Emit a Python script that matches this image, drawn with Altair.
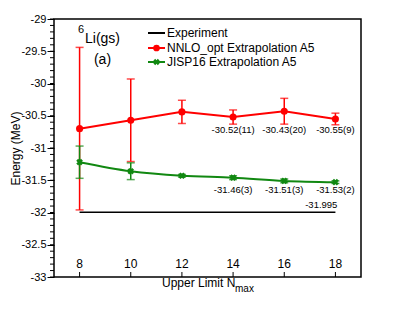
import altair as alt
import pandas as pd

# ---- data ----
nmax = [8, 10, 12, 14, 16, 18]
nnlo = [-30.70, -30.57, -30.44, -30.52, -30.43, -30.55]
nnlo_err = [1.26, 0.64, 0.18, 0.11, 0.20, 0.09]
jisp = [-31.22, -31.36, -31.43, -31.46, -31.51, -31.53]
jisp_err = [0.25, 0.13, 0.02, 0.03, 0.03, 0.02]
experiment = -31.995
nnlo_labels = ["", "", "", "-30.52(11)", "-30.43(20)", "-30.55(9)"]
jisp_labels = ["", "", "", "-31.46(3)", "-31.51(3)", "-31.53(2)"]
legend_names = ["Experiment", "NNLO_opt Extrapolation A5", "JISP16 Extrapolation A5"]
legend_colors = ["#000000", "#ff0000", "#118811"]
x_ticks = [8, 10, 12, 14, 16, 18]
y_major = [-33 + 0.5 * i for i in range(9)]
y_minor = [round(-33 + 0.1 * i, 1) for i in range(41)]

RED = "#ff0000"
GREEN = "#118811"
FONT = "Liberation Sans"
W, H = 307, 258

df = pd.DataFrame({
    "n": nmax, "nnlo": nnlo, "jisp": jisp,
    "nnlo_lo": [v - e for v, e in zip(nnlo, nnlo_err)],
    "nnlo_hi": [v + e for v, e in zip(nnlo, nnlo_err)],
    "jisp_lo": [v - e for v, e in zip(jisp, jisp_err)],
    "jisp_hi": [v + e for v, e in zip(jisp, jisp_err)],
    "nl": nnlo_labels, "jl": jisp_labels,
})
exp_df = pd.DataFrame({"n": [nmax[0], nmax[-1]], "e": [experiment, experiment]})
xt_df = pd.DataFrame({"n": x_ticks, "t": [str(v) for v in x_ticks]})
ymin_df = pd.DataFrame({"v": y_minor})

xs = alt.Scale(domain=[7, 19], nice=False, zero=False)
ys = alt.Scale(domain=[-33, -29], nice=False, zero=False)

YAX = alt.Axis(orient="left", values=y_major, tickSize=7, tickColor="black",
               labelExpr="datum.value + ''", labelFontSize=11, labelFont=FONT,
               labelColor="black", labelPadding=1, domain=False, grid=False,
               title="Energy (MeV)", titleFont=FONT, titleFontSize=12,
               titleFontWeight="normal", titleColor="black",
               titleX=-39, titleY=H / 2, titleAngle=270, titleBaseline="middle",
               titleAlign="center")

def Y(field):
    return alt.Y(field, scale=ys, axis=YAX)

base = alt.Chart(df)
X = alt.X("n:Q", scale=xs, axis=None)

red_err = base.mark_errorbar(ticks={"size": 8, "color": RED}, color=RED, thickness=1.5).encode(
    x=X, y=Y("nnlo_lo:Q"), y2="nnlo_hi:Q")

# minor y ticks
minor_ticks = alt.Chart(ymin_df).mark_rule(color="black", strokeWidth=1).encode(
    x=alt.value(-4), x2=alt.value(0), y=Y("v:Q"))

# x ticks (inward) and labels
x_tick_marks = alt.Chart(xt_df).mark_rule(color="black", strokeWidth=1).encode(
    x=X, y=alt.value(H), y2=alt.value(H - 5))
x_tick_labels = alt.Chart(xt_df).mark_text(fontSize=12, font=FONT, color="black",
                                           baseline="alphabetic").encode(
    x=X, y=alt.value(H - 9), text="t:N")

exp_line = alt.Chart(exp_df).mark_line(color="black", strokeWidth=1.5).encode(
    x=X, y=Y("e:Q"))

red_line = base.mark_line(color=RED, strokeWidth=2).encode(x=X, y=Y("nnlo:Q"))
red_pts = base.mark_point(color=RED, filled=True, opacity=1, size=50, shape="circle").encode(
    x=X, y=Y("nnlo:Q"))

green_err = base.mark_errorbar(ticks={"size": 8, "color": GREEN}, color=GREEN, thickness=1.5).encode(
    x=X, y=Y("jisp_lo:Q"), y2="jisp_hi:Q")
green_line = base.mark_line(color=GREEN, strokeWidth=2, interpolate="monotone").encode(
    x=X, y=Y("jisp:Q"))
green_pts = base.mark_point(color=GREEN, filled=True, opacity=1, size=45, shape="cross", angle=45).encode(
    x=X, y=Y("jisp:Q"))

red_lab = base.mark_text(fontSize=9.5, font=FONT, color="black", baseline="middle").encode(
    x=X, y=alt.datum(-30.72, scale=ys, axis=YAX), text="nl:N")
green_lab = base.mark_text(fontSize=9.5, font=FONT, color="black", baseline="middle").encode(
    x=X, y=alt.datum(-31.65, scale=ys, axis=YAX), text="jl:N")
exp_lab = alt.Chart(pd.DataFrame({"n": [nmax[-1]], "e": [experiment], "t": [str(experiment)]})).mark_text(
    fontSize=9.5, font=FONT, color="black", align="right", dx=2, dy=-7).encode(
    x=X, y=Y("e:Q"), text="t:N")

# legend
leg_rows_y = [14, 29, 43]
legend_layers = []
for i, (nm, col) in enumerate(zip(legend_names, legend_colors)):
    one = pd.DataFrame({"name": [nm]})
    legend_layers.append(alt.Chart(one).mark_rule(color=col, strokeWidth=2).encode(
        x=alt.value(94), x2=alt.value(111), y=alt.value(leg_rows_y[i])))
    legend_layers.append(alt.Chart(one).mark_text(align="left", baseline="middle", fontSize=12,
                                                   font=FONT, color="black").encode(
        x=alt.value(113), y=alt.value(leg_rows_y[i]), text="name:N"))
    if i == 1:
        legend_layers.append(alt.Chart(one).mark_point(color=col, filled=True, opacity=1, size=45,
                                                        shape="circle").encode(
            x=alt.value(102.5), y=alt.value(leg_rows_y[i])))
    if i == 2:
        legend_layers.append(alt.Chart(one).mark_point(color=col, filled=True, opacity=1, size=40,
                                                        shape="cross", angle=45).encode(
            x=alt.value(102.5), y=alt.value(leg_rows_y[i])))

def txt(t, x, y, size, align="left", baseline="alphabetic"):
    return alt.Chart(pd.DataFrame({"t": [t]})).mark_text(
        align=align, baseline=baseline, fontSize=size, font=FONT, color="black").encode(
        x=alt.value(x), y=alt.value(y), text="t:N")

texts = [
    txt("6", 24, 14, 11),
    txt("Li(gs)", 31, 24, 14),
    txt("(a)", 48.5, 45, 14, align="center"),
    txt("Upper Limit N", 108, 268, 12),
    txt("max", 181, 273, 10),
]

chart = alt.layer(
    red_err, minor_ticks, x_tick_marks, x_tick_labels, exp_line, red_line, red_pts,
    green_err, green_line, green_pts, red_lab, green_lab, exp_lab, *legend_layers, *texts
).properties(
    width=W, height=H,
    autosize=alt.AutoSizeParams(type="none"),
    padding={"left": 46, "top": 11, "right": 38, "bottom": 30},
).configure_view(stroke="black", strokeWidth=1.5)

chart.save("out.html", embed_options={"renderer": "svg", "actions": False})
